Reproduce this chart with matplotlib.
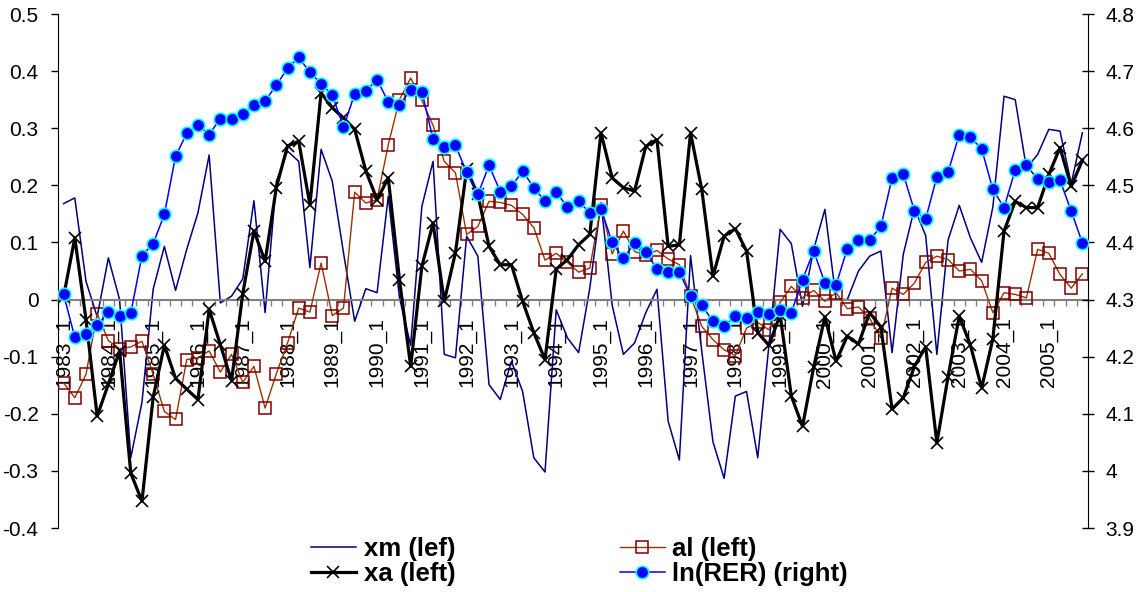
import matplotlib
matplotlib.use("Agg")
import matplotlib.pyplot as plt

plt.rcParams['font.family'] = ['Liberation Sans', 'DejaVu Sans']

years = list(range(1983, 2006))
quarters = [f"{y}_{q}" for y in years for q in range(1, 5)]

xm = [0.168, 0.178, 0.032, -0.030, 0.073, 0.000, -0.277, -0.180, 0.018, 0.093,
      0.016, 0.088, 0.152, 0.253, -0.006, 0.006, 0.036, 0.173, -0.023, 0.207,
      0.260, 0.242, 0.056, 0.263, 0.207, 0.082, -0.038, 0.019, 0.012, 0.181,
      0.003, -0.080, 0.163, 0.242, -0.096, -0.102, 0.111, 0.076, -0.149, -0.175,
      -0.108, -0.161, -0.277, -0.302, -0.018, -0.067, -0.093, 0.020, 0.170, -0.010,
      -0.096, -0.076, -0.023, 0.018, -0.213, -0.281, 0.077, -0.090, -0.249, -0.313,
      -0.169, -0.161, -0.277, -0.080, 0.123, 0.098, -0.012, 0.088, 0.158, 0.000,
      0.000, 0.050, 0.076, 0.085, -0.093, 0.079, 0.160, 0.112, -0.096, 0.104,
      0.165, 0.108, 0.065, 0.162, 0.356, 0.350, 0.230, 0.254, 0.298, 0.295,
      0.203, 0.292]

xa = [0.005, 0.108, -0.035, -0.204, -0.148, -0.090, -0.304, -0.353, -0.171, -0.080,
      -0.138, -0.157, -0.175, -0.017, -0.079, -0.142, 0.010, 0.120, 0.067, 0.196,
      0.269, 0.277, 0.166, 0.362, 0.336, 0.318, 0.298, 0.225, 0.175, 0.213,
      0.035, -0.117, 0.058, 0.134, -0.003, 0.082, 0.228, 0.184, 0.093, 0.061,
      0.061, -0.003, -0.058, -0.105, 0.053, 0.070, 0.096, 0.114, 0.292, 0.213,
      0.196, 0.190, 0.268, 0.280, 0.093, 0.096, 0.292, 0.193, 0.041, 0.111,
      0.124, 0.085, -0.058, -0.080, -0.027, -0.169, -0.222, -0.118, -0.030, -0.108,
      -0.064, -0.078, -0.023, -0.048, -0.192, -0.172, -0.117, -0.083, -0.251, -0.135,
      -0.029, -0.080, -0.155, -0.069, 0.120, 0.172, 0.161, 0.161, 0.219, 0.266,
      0.198, 0.244]

al = [-0.146, -0.172, -0.131, -0.025, -0.072, -0.086, -0.083, -0.073, -0.131, -0.196,
      -0.210, -0.105, -0.102, -0.090, -0.127, -0.096, -0.145, -0.117, -0.190, -0.130,
      -0.076, -0.015, -0.022, 0.064, -0.028, -0.015, 0.188, 0.169, 0.175, 0.271,
      0.350, 0.388, 0.349, 0.305, 0.242, 0.222, 0.114, 0.128, 0.172, 0.170,
      0.165, 0.149, 0.126, 0.069, 0.081, 0.065, 0.048, 0.055, 0.165, 0.080,
      0.120, 0.084, 0.078, 0.086, 0.071, 0.061, 0.006, -0.047, -0.070, -0.088,
      -0.098, -0.050, -0.040, -0.053, -0.005, 0.023, 0.003, 0.016, -0.003, 0.012,
      -0.016, -0.013, -0.033, -0.067, 0.020, 0.009, 0.029, 0.065, 0.076, 0.070,
      0.050, 0.053, 0.033, -0.023, 0.012, 0.009, 0.003, 0.088, 0.081, 0.044,
      0.020, 0.045]

ln_rer = [4.309, 4.234, 4.239, 4.255, 4.278, 4.272, 4.276, 4.377, 4.398, 4.449,
          4.551, 4.591, 4.606, 4.589, 4.617, 4.617, 4.625, 4.641, 4.648, 4.675,
          4.705, 4.724, 4.698, 4.678, 4.658, 4.602, 4.660, 4.666, 4.685, 4.646,
          4.641, 4.667, 4.664, 4.581, 4.567, 4.570, 4.523, 4.484, 4.535, 4.489,
          4.498, 4.525, 4.496, 4.472, 4.488, 4.462, 4.472, 4.452, 4.459, 4.400,
          4.372, 4.399, 4.384, 4.353, 4.348, 4.348, 4.306, 4.290, 4.262, 4.253,
          4.271, 4.268, 4.278, 4.274, 4.282, 4.277, 4.335, 4.385, 4.329, 4.326,
          4.389, 4.404, 4.404, 4.428, 4.513, 4.520, 4.455, 4.441, 4.515, 4.523,
          4.589, 4.584, 4.564, 4.493, 4.461, 4.527, 4.535, 4.511, 4.506, 4.509,
          4.455, 4.399]

left_ticks = [-0.4, -0.3, -0.2, -0.1, 0, 0.1, 0.2, 0.3, 0.4, 0.5]
left_labels = ["-0.4", "-0.3", "-0.2", "-0.1", "0", "0.1", "0.2", "0.3", "0.4", "0.5"]
right_ticks = [3.9, 4.0, 4.1, 4.2, 4.3, 4.4, 4.5, 4.6, 4.7, 4.8]
right_labels = ["3.9", "4", "4.1", "4.2", "4.3", "4.4", "4.5", "4.6", "4.7", "4.8"]

W, H = 1139, 592
fig = plt.figure(figsize=(W / 100, H / 100), dpi=100)
ax = fig.add_axes([58 / W, 1 - 528 / H, (1088 - 58) / W, (528 - 14) / H])
ax2 = ax.twinx()

x = list(range(len(quarters)))

l_xm, = ax.plot(x, xm, color='#000080', lw=1.1, zorder=2)
l_al, = ax.plot(x, al, color='#993300', lw=1.0, marker='s', ms=8.5,
                mfc='none', mec='#800000', mew=1.1, zorder=3)
l_xa, = ax.plot(x, xa, color='black', lw=2.3, marker='x', ms=8,
                mec='black', mew=1.2, zorder=4)
l_ln, = ax2.plot(x, ln_rer, color='#0000FF', lw=1.1, marker='o', ms=9,
                 mfc='#0000FF', mec='#00FFFF', mew=1.2, zorder=5)

ax.set_xlim(-0.5, len(quarters) - 0.5)
ax.set_ylim(-0.4, 0.5)
ax2.set_ylim(3.9, 4.8)

ax.set_yticks(left_ticks)
ax.set_yticklabels(left_labels, fontsize=15)
ax2.set_yticks(right_ticks)
ax2.set_yticklabels(right_labels, fontsize=15)

ax.tick_params(axis='y', direction='out', length=5, width=1, pad=9, colors='black')
ax2.tick_params(axis='y', direction='inout', length=9, width=1, pad=8, colors='black')

# category axis crossing at zero
ax.spines['bottom'].set_position(('data', 0))
ax.spines['bottom'].set_color('#808080')
ax.spines['bottom'].set_linewidth(1.5)
for a in (ax, ax2):
    a.spines['top'].set_visible(False)
ax2.spines['bottom'].set_visible(False)
ax2.spines['left'].set_visible(False)
ax.spines['right'].set_visible(False)

major = list(range(0, len(quarters), 4))
ax.set_xticks(major)
ax.set_xticklabels([quarters[i] for i in major], rotation=90, fontsize=15)
ax.set_xticks([i - 0.5 for i in range(len(quarters) + 1)], minor=True)
ax.tick_params(axis='x', which='major', length=0, pad=13)
ax.tick_params(axis='x', which='minor', direction='out', length=4, width=1, color='#808080')

handles = [l_xm, l_xa, l_al, l_ln]
labels = ["xm (lef)", "xa (left)", "al (left)", "ln(RER) (right)"]
leg = fig.legend(handles, labels, ncol=2, loc='center',
                 bbox_to_anchor=(0.5088, 1 - 561.5 / H), frameon=False,
                 prop={'weight': 'bold', 'size': 18.5}, handlelength=1.75,
                 handletextpad=0.3, columnspacing=6.4, labelspacing=0.02,
                 borderpad=0)

fig.savefig("out.png", dpi=100)
